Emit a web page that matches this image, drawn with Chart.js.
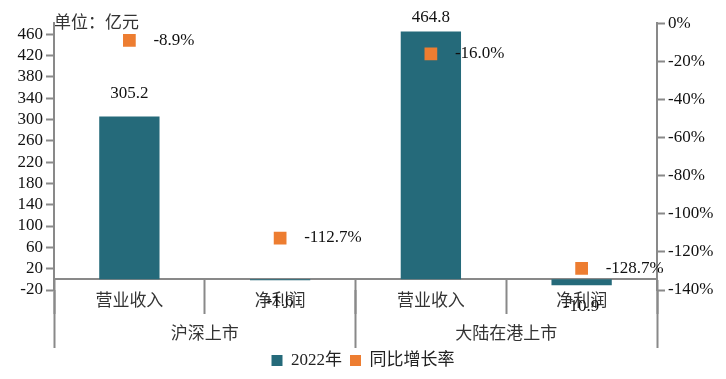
<!DOCTYPE html>
<html><head><meta charset="utf-8">
<script src="https://cdn.jsdelivr.net/npm/chart.js@4/dist/chart.umd.min.js"></script>
<style>html,body{margin:0;padding:0;background:#fff}#wrap{width:726px;height:379px;position:relative}</style>
</head><body><div id="wrap"><canvas id="c"></canvas></div>
<script>
const subCategories = ['营业收入', '净利润', '营业收入', '净利润'];
const groupCategories = ['沪深上市', '大陆在港上市'];
const values2022 = [305.2, -1.6, 464.8, -10.9];
const yoyGrowth = [-8.9, -112.7, -16.0, -128.7];
const leftTicks = [-20, 20, 60, 100, 140, 180, 220, 260, 300, 340, 380, 420, 460];
const rightTicks = [-140, -120, -100, -80, -60, -40, -20, 0];
const seriesNames = ['2022年', '同比增长率'];
const unitText = '单位：亿元';

const AXIS = '#898989';
const TEAL = '#256A7A';
const ORANGE = '#ED7D31';
const SERIF = "'Liberation Serif', 'Noto Sans CJK SC', serif";
const CJK = "'Noto Sans CJK SC', 'Liberation Serif', sans-serif";

const valueLabels = {
  id: 'valueLabels',
  afterDatasetsDraw(chart) {
    const ctx = chart.ctx;
    ctx.save();
    ctx.font = "17px " + SERIF;
    ctx.fillStyle = '#111';
    ctx.textBaseline = 'middle';
    chart.getDatasetMeta(0).data.forEach((el, i) => {
      const v = values2022[i];
      ctx.textAlign = 'center';
      const y = v >= 0 ? Math.max(el.y - 23, 18) : el.y + 21;
      ctx.fillText(v.toFixed(1), el.x, y);
    });
    chart.getDatasetMeta(1).data.forEach((el, i) => {
      ctx.textAlign = 'left';
      ctx.fillText(yoyGrowth[i].toFixed(1) + '%', el.x + 24, el.y);
    });
    ctx.restore();
  }
};

Chart.defaults.font.family = SERIF;
Chart.defaults.font.size = 17;
Chart.defaults.color = '#111';

new Chart(document.getElementById('c'), {
  type: 'bar',
  data: {
    labels: subCategories,
    datasets: [
      {
        type: 'bar', label: seriesNames[0], data: values2022,
        backgroundColor: TEAL, borderWidth: 0,
        xAxisID: 'x', yAxisID: 'y', order: 1,
        barPercentage: 0.4, categoryPercentage: 1
      },
      {
        type: 'line', label: seriesNames[1], data: yoyGrowth,
        showLine: false, pointStyle: 'rect', pointRadius: 9, pointHoverRadius: 9,
        pointBorderWidth: 0, backgroundColor: ORANGE, borderColor: ORANGE, borderWidth: 0,
        pointBackgroundColor: ORANGE,
        xAxisID: 'x', yAxisID: 'y1', order: 0
      }
    ]
  },
  options: {
    responsive: true, maintainAspectRatio: false, animation: false,
    events: [],
    layout: { padding: 0 },
    plugins: {
      tooltip: { enabled: false },
      title: {
        display: true, text: unitText, align: 'start', position: 'top', fullSize: false,
        font: { family: CJK, size: 17, weight: 'normal', lineHeight: 1.2 },
        color: '#333', padding: { top: 11, bottom: -8 }
      },
      legend: {
        position: 'bottom',
        labels: {
          boxWidth: 11, boxHeight: 11, padding: 8,
          font: { family: SERIF, size: 17 }, color: '#222',
          sort: (a, b) => a.datasetIndex - b.datasetIndex
        }
      }
    },
    scales: {
      x: {
        type: 'category', position: { y: 0 }, offset: true,
        grid: { display: true, drawOnChartArea: false, drawTicks: true, tickLength: 34, tickWidth: 2, tickColor: AXIS, offset: true },
        border: { display: true, color: AXIS, width: 2 },
        ticks: { padding: -23.5, maxRotation: 0, autoSkip: false, color: '#333', font: { family: CJK, size: 17 } }
      },
      xg: {
        type: 'category', labels: groupCategories, position: 'bottom', offset: true,
        grid: { display: true, drawOnChartArea: false, drawTicks: true, tickLength: 58, tickWidth: 2, tickColor: AXIS, offset: true },
        border: { display: false },
        ticks: { padding: -25.2, maxRotation: 0, autoSkip: false, color: '#333', font: { family: CJK, size: 17 } },
        afterFit(s) { s.height = 54; }
      },
      y: {
        type: 'linear', position: 'left', min: -20, max: 480,
        grid: { display: true, drawOnChartArea: false, drawTicks: true, tickLength: 8, tickWidth: 2, tickColor: AXIS },
        border: { display: true, color: AXIS, width: 2 },
        ticks: { padding: 3, autoSkip: false, color: '#111', font: { family: SERIF, size: 17 } },
        afterBuildTicks(s) { s.ticks = leftTicks.map(v => ({ value: v })); },
        afterFit(s) { s.width = 54; }
      },
      y1: {
        type: 'linear', position: 'right', min: -140, max: 0,
        grid: { display: true, drawOnChartArea: false, drawTicks: true, tickLength: 8, tickWidth: 2, tickColor: AXIS },
        border: { display: true, color: AXIS, width: 2 },
        ticks: { padding: 3, autoSkip: false, color: '#111', font: { family: SERIF, size: 17 }, callback: v => v + '%' },
        afterBuildTicks(s) { s.ticks = rightTicks.map(v => ({ value: v })); },
        afterFit(s) { s.width = 69; }
      }
    }
  },
  plugins: [valueLabels]
});
</script>
</body></html>
